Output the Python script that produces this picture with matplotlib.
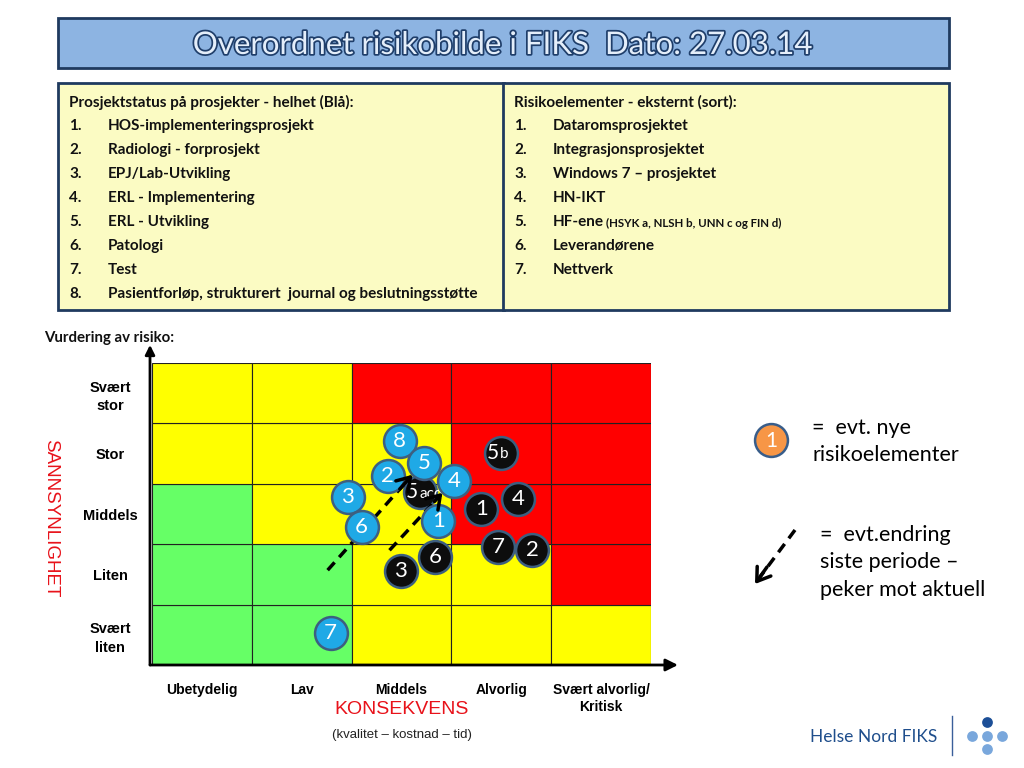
import matplotlib
matplotlib.use("Agg")
import matplotlib.pyplot as plt
from matplotlib.patches import Rectangle
import matplotlib.patheffects as pe

OUT = "out.png"

# --- data -------------------------------------------------------------
konsekvens = ["Ubetydelig", "Lav", "Middels", "Alvorlig", "Svært alvorlig/\nKritisk"]
sannsynlighet = ["Svært\nliten", "Liten", "Middels", "Stor", "Svært\nstor"]  # nederst -> øverst

G, Y, R = "#66ff66", "#ffff00", "#ff0000"
# rad 0 = Svært liten, kolonne 0 = Ubetydelig
cell_colors = [
    [G, G, Y, Y, Y],
    [G, G, Y, Y, R],
    [G, Y, Y, R, R],
    [Y, Y, Y, R, R],
    [Y, Y, R, R, R],
]

# prosjekter (blå)
blue_labels = ["8", "5", "2", "4", "3", "1", "6", "7"]
blue_x = [2.48, 2.73, 2.36, 3.03, 1.96, 2.87, 2.10, 1.79]
blue_y = [3.71, 3.34, 3.13, 3.05, 2.78, 2.38, 2.29, 0.53]

# eksterne risikoelementer (sort)
black_labels = ["5b", "5acd", "1", "4", "7", "2", "3", "6"]
black_x = [3.50, 2.69, 3.30, 3.67, 3.47, 3.81, 2.49, 2.84]
black_y = [3.51, 2.86, 2.58, 2.75, 1.95, 1.90, 1.56, 1.79]

# endring siste periode (fra -> til)
arrow_from = [(1.76, 1.57), (2.38, 1.90)]
arrow_to = [(2.61, 3.15), (2.91, 2.85)]

left_title = "Prosjektstatus på prosjekter - helhet (Blå):"
left_items = ["HOS-implementeringsprosjekt", "Radiologi - forprosjekt", "EPJ/Lab-Utvikling",
              "ERL - Implementering", "ERL - Utvikling", "Patologi", "Test",
              "Pasientforløp, strukturert  journal og beslutningsstøtte"]
right_title = "Risikoelementer - eksternt (sort):"
right_items = ["Dataromsprosjektet", "Integrasjonsprosjektet", "Windows 7 – prosjektet",
               "HN-IKT", "HF-ene", "Leverandørene", "Nettverk"]
right_note = "(HSYK a, NLSH b, UNN c og FIN d)"

BLUE = "#1fa9e6"
EDGE = "#3d5f80"
NAVY = "#1f3a5f"
BOXFILL = "#fbfbc3"
HEAD = "->,head_length=0.45,head_width=0.3"

fig = plt.figure(figsize=(10.24, 7.68), dpi=100)

# --- slide-lag i piksler ------------------------------------------------
bg = fig.add_axes([0, 0, 1, 1])
bg.set_xlim(0, 1024)
bg.set_ylim(768, 0)
bg.axis("off")

bg.add_patch(Rectangle((58, 18), 891, 50, facecolor="#8db4e2", edgecolor=NAVY, lw=2))
bg.text(503, 45, "Overordnet risikobilde i FIKS  Dato: 27.03.14", ha="center", va="center",
        fontsize=22.5, family="Lato", color="#e4eefa",
        path_effects=[pe.withStroke(linewidth=2.5, foreground="#1f3e6a")])

for x0 in (58, 503):
    bg.add_patch(Rectangle((x0, 83), 446, 227, facecolor=BOXFILL, edgecolor=NAVY, lw=2))

tfont = dict(family="Lato", fontweight="bold", fontsize=11, va="center", color="#111111")
bg.text(69, 102, left_title, **tfont)
for i, item in enumerate(left_items):
    bg.text(69, 126 + 24 * i, f"{i + 1}.", **tfont)
    bg.text(108, 126 + 24 * i, item, **tfont)
bg.text(514, 102, right_title, **tfont)
for i, item in enumerate(right_items):
    bg.text(514, 126 + 24 * i, f"{i + 1}.", **tfont)
    bg.text(553, 126 + 24 * i, item, **tfont)
bg.text(606, 223, right_note, family="Lato", fontweight="bold", fontsize=8.3, va="center",
        color="#111111")

bg.text(44, 338, "Vurdering av risiko:", family="Lato", fontweight="bold", fontsize=10.8,
        va="center", color="#111111")

# tegnforklaring
bg.scatter([771], [440], s=560, color="#f79646", edgecolor="#385d8a", lw=1.8, zorder=3)
bg.text(771, 441, "1", ha="center", va="center", family="Lato", fontsize=15, color="white", zorder=4)
bg.text(812, 428, "=  evt. nye", family="Lato", fontsize=15.5, va="center")
bg.text(812, 455, "risikoelementer", family="Lato", fontsize=15.5, va="center")

bg.plot([795, 760], [530, 577], ls=(0, (3, 2)), color="black", lw=2.5)
bg.annotate("", xy=(755, 584), xytext=(767, 567),
            arrowprops=dict(arrowstyle=HEAD, lw=2.5, color="black", mutation_scale=20,
                            shrinkA=0, shrinkB=0))
bg.text(820, 535, "=  evt.endring", family="Lato", fontsize=15.5, va="center")
bg.text(820, 562, "siste periode –", family="Lato", fontsize=15.5, va="center")
bg.text(820, 590, "peker mot aktuell", family="Lato", fontsize=15.5, va="center")

# logo
bg.text(810, 737, "Helse Nord FIKS", family="Lato", fontsize=12.5, color="#1f4e8c", va="center")
bg.plot([952, 952], [716, 755], color="#3a5f9a", lw=1)
bg.scatter([987], [722], s=60, color="#1c4f97", lw=0)
bg.scatter([972, 987, 1002, 987], [736, 736, 736, 749], s=60, color="#79a7dc", lw=0)

# --- risikomatrise ------------------------------------------------------
ax = fig.add_axes([152 / 1024, 103 / 768, 499 / 1024, 302 / 768])
ax.set_xlim(0, 5)
ax.set_ylim(0, 5)
for r, row in enumerate(cell_colors):
    for c, col in enumerate(row):
        ax.add_patch(Rectangle((c, r), 1, 1, facecolor=col, edgecolor="#222222", lw=0.8))

for s in ax.spines.values():
    s.set_visible(False)
ax.annotate("", xy=(5.27, 0), xytext=(-0.02, 0), annotation_clip=False,
            arrowprops=dict(arrowstyle="-|>", lw=2, color="black", mutation_scale=18,
                            shrinkA=0, shrinkB=0))
ax.annotate("", xy=(-0.02, 5.3), xytext=(-0.02, 0), annotation_clip=False,
            arrowprops=dict(arrowstyle="-|>", lw=2, color="black", mutation_scale=14,
                            shrinkA=0, shrinkB=0))

ax.set_xticks([i + 0.5 for i in range(5)])
ax.set_xticklabels(konsekvens, family="Liberation Sans", fontweight="bold", fontsize=10,
                   linespacing=1.3)
ax.set_yticks([i + 0.5 for i in range(5)])
ax.set_yticklabels(sannsynlighet, family="Liberation Sans", fontweight="bold", fontsize=10.5,
                   linespacing=1.4)
for lbl in ax.get_yticklabels():
    lbl.set_ha("center")
    lbl.set_multialignment("center")
ax.tick_params(axis="x", length=0, pad=13)
ax.tick_params(axis="y", length=0, pad=30)

ax.text(0.5, -0.146, "KONSEKVENS", transform=ax.transAxes, ha="center", va="center",
        family="Liberation Sans", fontsize=14, color="#e8121a")
ax.text(0.5, -0.232, "(kvalitet – kostnad – tid)", transform=ax.transAxes, ha="center",
        va="center", family="Liberation Sans", fontsize=9.5, color="#222222")
ax.text(-0.204, 0.487, "SANNSYNLIGHET", transform=ax.transAxes, ha="center", va="center",
        rotation=270, family="Liberation Sans", fontsize=13.5, color="#e8121a")

# sorte sirkler
ax.scatter(black_x, black_y, s=560, color="#0d0d0d", edgecolor=EDGE, lw=1.8, zorder=3,
           clip_on=False)
for x, y, lab in zip(black_x, black_y, black_labels):
    if len(lab) == 1:
        ax.text(x, y, lab, ha="center", va="center", family="Lato", fontsize=16,
                color="white", zorder=4)
    else:
        ax.annotate(lab[0], (x, y), xytext=(-1.5, 0), textcoords="offset points",
                    ha="right", va="center", family="Lato", fontsize=15, color="white", zorder=4)
        ax.annotate(lab[1:], (x, y), xytext=(-1, -1), textcoords="offset points",
                    ha="left", va="center", family="Lato", fontsize=11, color="white", zorder=4)

# endringspiler (stiplet linje under blå sirkler, pilhode over)
for (x0, y0), (x1, y1) in zip(arrow_from, arrow_to):
    ax.plot([x0, x1 - 0.06 * (x1 - x0)], [y0, y1 - 0.06 * (y1 - y0)], ls=(0, (3, 2)),
            color="black", lw=2.5, zorder=5)
    ax.annotate("", xy=(x1, y1), xytext=(x1 - 0.15 * (x1 - x0), y1 - 0.15 * (y1 - y0)),
                arrowprops=dict(arrowstyle=HEAD, lw=2.5, color="black", mutation_scale=20,
                                shrinkA=0, shrinkB=0),
                zorder=6.5)

# blå sirkler
ax.scatter(blue_x, blue_y, s=560, color=BLUE, edgecolor=EDGE, lw=1.8, zorder=6, clip_on=False)
for x, y, lab in zip(blue_x, blue_y, blue_labels):
    ax.text(x, y, lab, ha="center", va="center", family="Lato", fontsize=16, color="white",
            zorder=7)

fig.savefig(OUT, dpi=100)
print("saved", OUT)
